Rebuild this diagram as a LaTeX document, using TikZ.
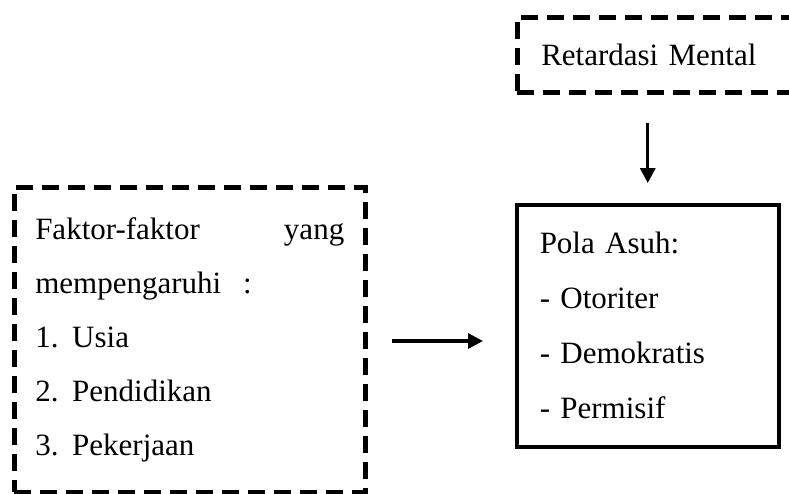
\documentclass[tikz,border=0pt]{standalone}
\usepackage{fontspec}
\setmainfont{Liberation Serif}
\usetikzlibrary{arrows.meta}
\begin{document}
\begin{tikzpicture}[
  x=1pt, y=-1pt,
  font=\fontsize{31}{54}\selectfont,
  dashbox/.style={draw, line width=4.5pt, dash pattern=on 17pt off 9pt,
    inner ysep=0pt, align=left},
  solidbox/.style={draw, line width=3.5pt, inner ysep=0pt, align=left},
  arrow/.style={line width=3.3pt, -{Triangle[length=15pt,width=15pt]}}]
\clip (0,0) rectangle (789,493);
\node [dashbox, anchor=north west, text width=250pt, inner xsep=24pt,
  minimum height=75pt] (retard) at (515,15) {Retardasi Mental};
\node [dashbox, anchor=north west, text width=309pt, inner xsep=21pt,
  minimum height=305pt] (faktor) at (12,185)
  {Faktor-faktor\hfill yang\\
   mempengaruhi\hspace{22pt}:\\
   \makebox[37pt][l]{1.}Usia\\
   \makebox[37pt][l]{2.}Pendidikan\\
   \makebox[37pt][l]{3.}Pekerjaan\par\vspace{8pt}};
\node [solidbox, anchor=north west, text width=216pt, inner xsep=23pt,
  minimum height=242pt, font=\fontsize{31}{55}\selectfont] (pola) at (515,203)
  {Pola Asuh:\\
   - Otoriter\\
   - Demokratis\\
   - Permisif\par\vspace{10pt}};
\coordinate (mid) at (0,341);
\draw [arrow, shorten <=28pt, shorten >=20pt]
  (pola.north |- retard.south) -- (pola.north);
\draw [arrow, shorten <=24pt, shorten >=32pt]
  (faktor.east |- mid) -- (pola.west |- mid);
\end{tikzpicture}
\end{document}
